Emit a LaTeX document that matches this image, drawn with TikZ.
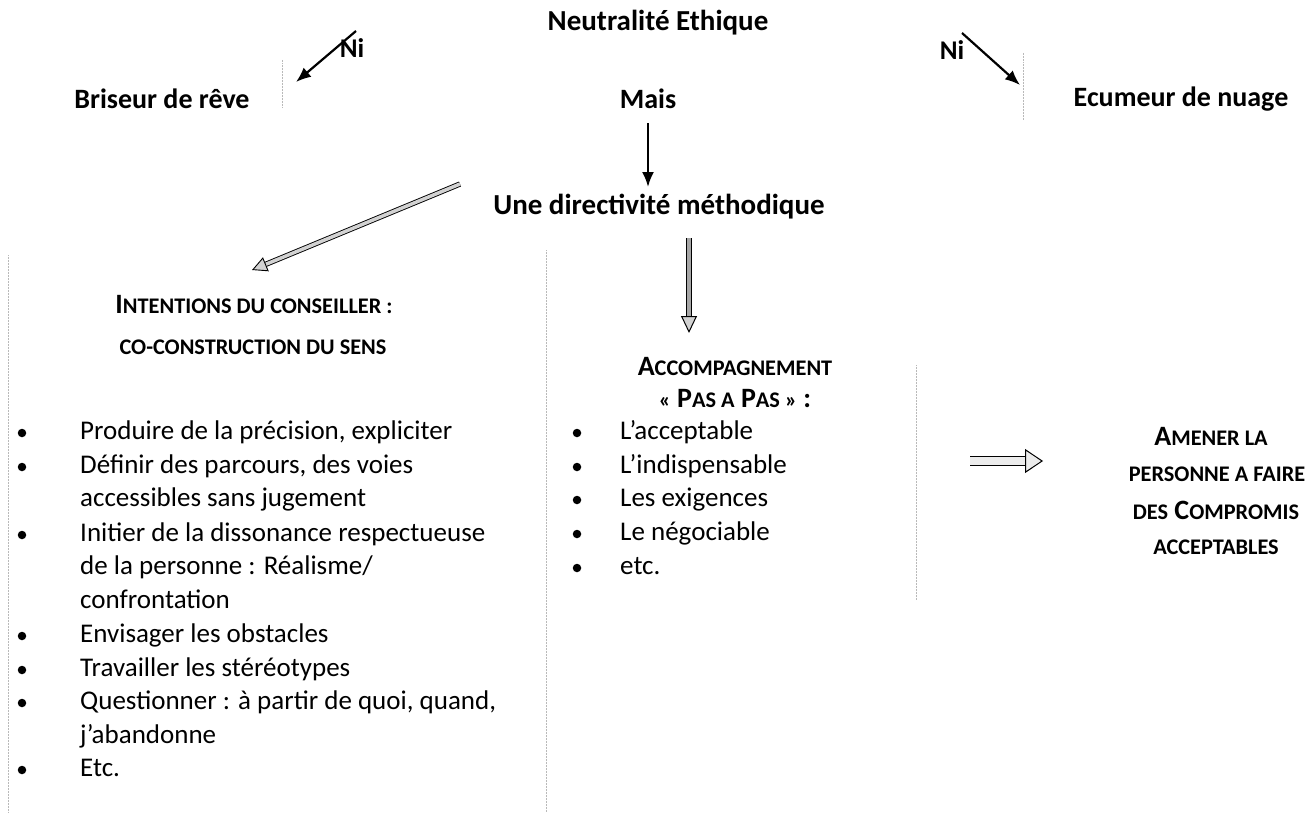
\documentclass[tikz,border=0pt]{standalone}
\usepackage{fontspec}
\setmainfont{Carlito}
\usetikzlibrary{arrows.meta,calc}
\newcommand{\smc}[1]{{\fontsize{22.3}{26}\selectfont #1}}
\tikzset{
  hd/.style={font=\bfseries\fontsize{28}{32}\selectfont, inner sep=0pt},
  hdl/.style={font=\bfseries\fontsize{29}{33}\selectfont, inner sep=0pt},
  sch/.style={font=\bfseries\fontsize{28}{32}\selectfont, inner sep=0pt},
  ni/.style={font=\bfseries\fontsize{27}{31}\selectfont, inner sep=0pt},
  txt/.style={font=\fontsize{27}{32}\selectfont, inner sep=0pt, anchor=west, text height=19pt, text depth=6pt},
  bul/.style={circle, fill=black, inner sep=0pt, minimum size=8.5pt},
  blk/.style={line width=2.2pt, -{Latex[length=15pt,width=12pt]}},
  faint/.style={gray!55, line width=0.5pt, densely dotted},
}
\begin{document}
\begin{tikzpicture}[x=1pt,y=1pt]
\useasboundingbox (0,0) rectangle (1316,-816);
% faint scan lines
\draw[faint] (282,-60) -- (282,-108);
\draw[faint] (1023,-53) -- (1023,-120);
\draw[faint] (8,-255) -- (8,-812);
\draw[faint] (546,-250) -- (546,-812);
\draw[faint] (916,-365) -- (916,-600);
% top
\node[hdl] (neut) at (658,-23) {Neutralité Ethique};
\node[ni] (nil) at (352,-48) {Ni};
\node[ni] (nir) at (952,-50) {Ni};
\coordinate (nils) at (356,-31);
\coordinate (nilt) at (296,-82);
\coordinate (nirs) at (962,-33);
\coordinate (nirt) at (1020,-85);
\draw[blk] (nils) -- (nilt);
\draw[blk] (nirs) -- (nirt);
\node[hd] (bris) at (162,-99) {Briseur de rêve};
\node[hd] (mais) at (648,-99) {Mais};
\node[hd] (ecu) at (1181,-99) {Ecumeur de nuage};
\node[hdl] (dir) at (659,-207) {Une directivité méthodique};
\draw[blk] (648,-123) -- (648,-187);
% hollow arrow to the left
\coordinate (la1) at (460,-184);
\coordinate (la2) at (252,-270);
\draw[line width=0.9pt, double=gray!35, double distance=3.5pt, shorten >=13pt] (la1) -- (la2);
\draw[line width=0.9pt, -{Triangle[open, length=15pt, width=15pt, fill=gray!35]}] ($(la2)!15pt!(la1)$) -- (la2);
% hollow arrow down
\coordinate (da1) at (689,-238);
\coordinate (da2) at (689,-333);
\draw[line width=1.3pt, double=gray!70, double distance=3.5pt, shorten >=15pt] (da1) -- (da2);
\draw[line width=1pt, -{Triangle[open, length=17pt, width=16pt, fill=gray!35]}] ($(da2)!17pt!(da1)$) -- (da2);
% fat right arrow
\coordinate (ra1) at (970,-461);
\coordinate (ra2) at (1043,-461);
\draw[line width=1.2pt, double=gray!15, double distance=8pt, shorten >=17pt] (ra1) -- (ra2);
\draw[line width=1pt, -{Triangle[open, length=18pt, width=24pt, fill=gray!15]}] ($(ra2)!18pt!(ra1)$) -- (ra2);
% left column
\node[sch] (int) at (254,-305) {I\smc{NTENTIONS DU CONSEILLER :}};
\node[sch] (cocon) at (253,-347) {\smc{CO-CONSTRUCTION DU SENS}};
\node[bul] (lb1) at (22,-433) {};
\node[bul] (lb2) at (22,-467) {};
\node[bul] (lb3) at (22,-535) {};
\node[bul] (lb4) at (22,-636) {};
\node[bul] (lb5) at (22,-670) {};
\node[bul] (lb6) at (22,-703) {};
\node[bul] (lb7) at (22,-770) {};
\node[txt] (l1) at (80,-433) {Produire de la précision, expliciter};
\node[txt] (l2) at (80,-467) {Définir des parcours, des voies};
\node[txt] (l3) at (80,-500) {accessibles sans jugement};
\node[txt] (l4) at (80,-535) {Initier de la dissonance respectueuse};
\node[txt] (l5) at (80,-568) {de la personne : Réalisme/};
\node[txt] (l6) at (80,-602) {confrontation};
\node[txt] (l7) at (80,-636) {Envisager les obstacles};
\node[txt] (l8) at (80,-670) {Travailler les stéréotypes};
\node[txt] (l9) at (80,-703) {Questionner : à partir de quoi, quand,};
\node[txt] (l10) at (80,-737) {j’abandonne};
\node[txt] (l11) at (80,-770) {Etc.};
% middle column
\node[sch] (acc) at (735,-366) {A\smc{CCOMPAGNEMENT}};
\node[sch] (pas) at (735,-399) {\smc{«} P\smc{AS A} P\smc{AS »} :};
\node[bul] (mb1) at (577,-433) {};
\node[bul] (mb2) at (577,-467) {};
\node[bul] (mb3) at (577,-500) {};
\node[bul] (mb4) at (577,-534) {};
\node[bul] (mb5) at (577,-568) {};
\node[txt] (m1) at (620,-433) {L’acceptable};
\node[txt] (m2) at (620,-467) {L’indispensable};
\node[txt] (m3) at (620,-500) {Les exigences};
\node[txt] (m4) at (620,-534) {Le négociable};
\node[txt] (m5) at (620,-568) {etc.};
% right column
\node[sch] (r1) at (1211,-436) {A\smc{MENER LA}};
\node[sch] (r2) at (1217,-474) {\smc{PERSONNE A FAIRE}};
\node[sch] (r3) at (1216,-510) {\smc{DES} C\smc{OMPROMIS}};
\node[sch] (r4) at (1216,-547) {\smc{ACCEPTABLES}};
\end{tikzpicture}
\end{document}
